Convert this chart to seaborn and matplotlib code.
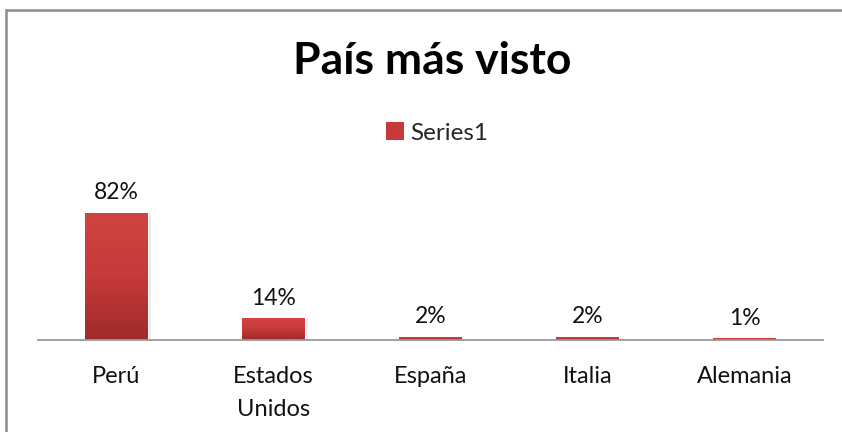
import numpy as np
import pandas as pd
import matplotlib
matplotlib.use("Agg")
import matplotlib.pyplot as plt
from matplotlib.colors import LinearSegmentedColormap
from matplotlib.lines import Line2D
from matplotlib.patches import Patch
import seaborn as sns

# Data
paises = ["Perú", "Estados\nUnidos", "España", "Italia", "Alemania"]
valores = [0.82, 0.14, 0.02, 0.02, 0.01]
etiquetas = ["82%", "14%", "2%", "2%", "1%"]
serie = "Series1"
titulo = "País más visto"

sns.set_theme(style="white")
plt.rcParams["font.family"] = ["Lato", "DejaVu Sans"]

df = pd.DataFrame({"pais": paises, "valor": valores})

W, H = 842, 432
fig = plt.figure(figsize=(W / 100, H / 100), dpi=100)
ax = fig.add_axes([38 / W, 92 / H, 785 / W, 139.4 / H])

sns.barplot(data=df, x="pais", y="valor", color="#C0393B", width=0.4,
            saturation=1, ax=ax)

# Vertical red gradient on each bar
cmap = LinearSegmentedColormap.from_list("rojo", ["#9E2B2A", "#C63A39", "#D24341"])
grad = np.linspace(0, 1, 256).reshape(-1, 1)
for p in list(ax.patches):
    x0, y0 = p.get_x(), p.get_y()
    w, h = p.get_width(), p.get_height()
    # soft shadow
    ax.bar(x0 + w / 2 + 0.012, h, width=w, bottom=0, color="#000000",
           alpha=0.12, zorder=1.5)
    im = ax.imshow(grad, extent=[x0, x0 + w, y0, y0 + h], origin="lower",
                   aspect="auto", cmap=cmap, zorder=2.5)
    im.set_clip_path(p)
    p.set_zorder(2)
ax.set_xlim(-0.5, len(paises) - 0.5)
ax.set_ylim(0, 0.9)

for i, (v, t) in enumerate(zip(valores, etiquetas)):
    ax.annotate(t, (i, v), xytext=(0, 7), textcoords="offset points",
                ha="center", va="bottom", fontsize=16.5, color="#111111")

for s in ["top", "right", "left"]:
    ax.spines[s].set_visible(False)
ax.spines["bottom"].set_color("#9a9a9a")
ax.spines["bottom"].set_linewidth(1.3)
ax.set_yticks([])
ax.set_xlabel("")
ax.set_ylabel("")
ax.tick_params(axis="x", length=0, pad=18.5, labelsize=17, colors="#111111")
for lbl in ax.get_xticklabels():
    lbl.set_linespacing(1.7)
ax.set_facecolor("none")

fig.text(432 / W, 1 - 61 / H, titulo, ha="center", va="center",
         fontsize=32, fontweight="bold", color="#000000")

handles = [Patch(facecolor="#C63A39", edgecolor="none")]
fig.legend(handles, [serie], loc="center", bbox_to_anchor=(437 / W, 1 - 133 / H),
           frameon=False, fontsize=17.5, handlelength=0.75, handleheight=0.75,
           handletextpad=0.25)

# Chart area border
fig.add_artist(Line2D([5.5 / W, 5.5 / W], [0, 1 - 9.5 / H], color="#8c8c8c",
                      lw=1.8, transform=fig.transFigure))
fig.add_artist(Line2D([5.5 / W, 1], [1 - 9.5 / H, 1 - 9.5 / H], color="#8c8c8c",
                      lw=1.8, transform=fig.transFigure))

fig.savefig("out.png", dpi=100, facecolor="white")
